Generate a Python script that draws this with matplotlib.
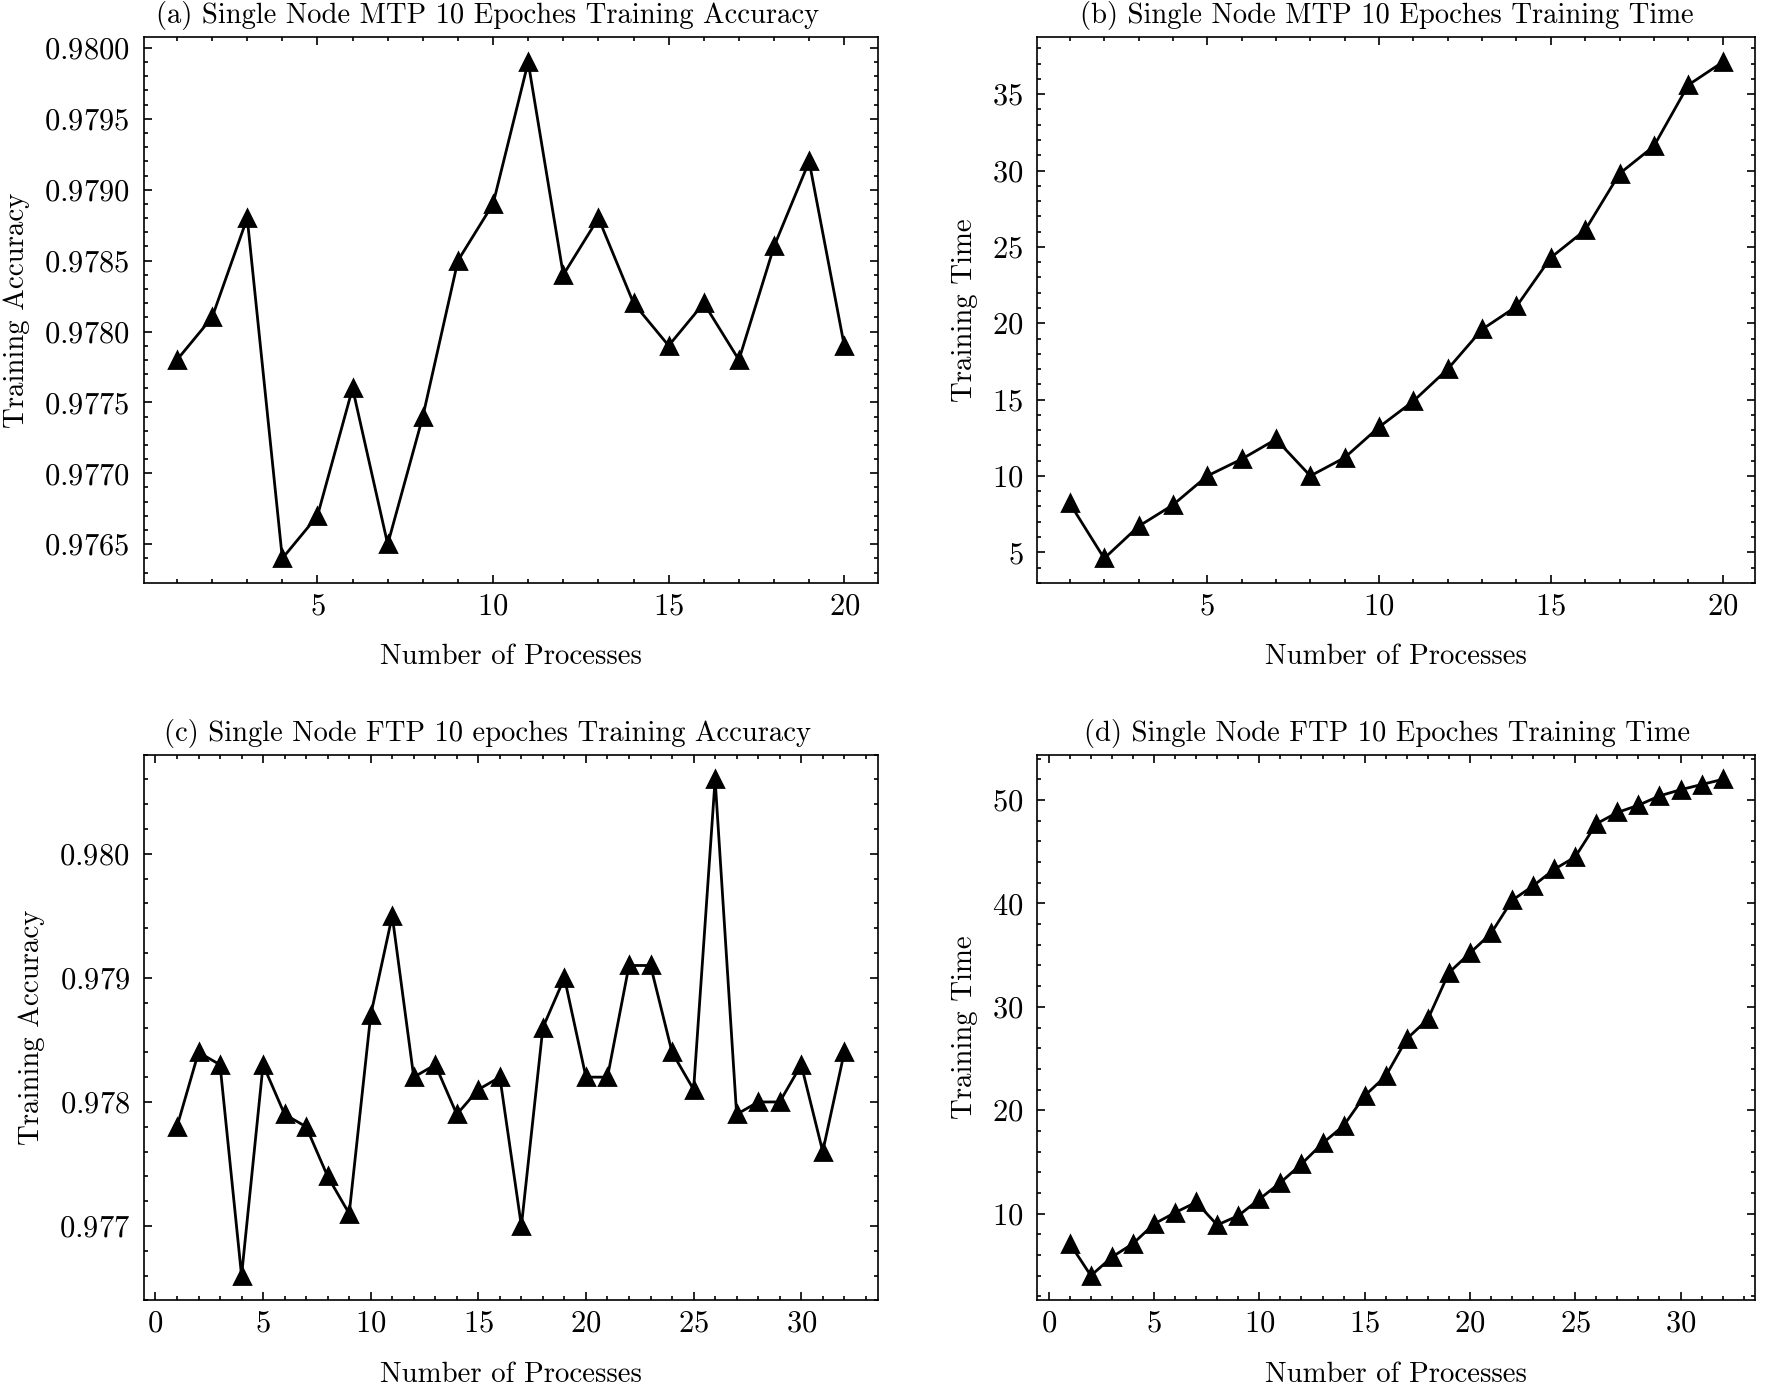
"""Single node MTP / FTP training accuracy and time"""

import matplotlib
matplotlib.use("Agg")
import matplotlib.pyplot as plt
from matplotlib.ticker import AutoMinorLocator, MultipleLocator

# (a) MTP accuracy, 1..20 processes
mtp_procs = list(range(1, 21))
mtp_acc = [0.9778, 0.9781, 0.9788, 0.9764, 0.9767, 0.9776, 0.9765, 0.9774,
           0.9785, 0.9789, 0.9799, 0.9784, 0.9788, 0.9782, 0.9779, 0.9782,
           0.9778, 0.9786, 0.9792, 0.9779]

# (b) MTP training time
mtp_time = [8.2, 4.6, 6.7, 8.1, 10.0, 11.1, 12.4, 10.0, 11.2, 13.2,
            14.9, 17.0, 19.6, 21.1, 24.3, 26.1, 29.8, 31.6, 35.6, 37.1]

# (c) FTP accuracy, 1..32 processes
ftp_procs = list(range(1, 33))
ftp_acc = [0.9778, 0.9784, 0.9783, 0.9766, 0.9783, 0.9779, 0.9778, 0.9774,
           0.9771, 0.9787, 0.9795, 0.9782, 0.9783, 0.9779, 0.9781, 0.9782,
           0.9770, 0.9786, 0.9790, 0.9782, 0.9782, 0.9791, 0.9791, 0.9784,
           0.9781, 0.9806, 0.9779, 0.9780, 0.9780, 0.9783, 0.9776, 0.9784]

# (d) FTP training time
ftp_time = [7.1, 4.0, 5.8, 7.1, 9.0, 10.1, 11.1, 8.9, 9.8, 11.4,
            13.0, 14.8, 16.8, 18.5, 21.4, 23.3, 26.9, 28.8, 33.3, 35.2,
            37.1, 40.3, 41.7, 43.3, 44.5, 47.7, 48.8, 49.5, 50.4, 51.0,
            51.5, 52.0]

titles = [
    "(a) Single Node MTP 10 Epoches Training Accuracy",
    "(b) Single Node MTP 10 Epoches Training Time",
    "(c) Single Node FTP 10 epoches Training Accuracy",
    "(d) Single Node FTP 10 Epoches Training Time",
]


def setup_style():
    plt.rcParams.update({
        "font.family": "serif",
        "font.serif": ["cmr10"],
        "mathtext.fontset": "cm",
        "axes.formatter.use_mathtext": True,
        "font.size": 10,
        "axes.titlesize": 10.3,
        "axes.labelsize": 10.4,
        "xtick.labelsize": 11,
        "ytick.labelsize": 11,
        "xtick.major.pad": 3.5,
        "ytick.major.pad": 5,
        "axes.linewidth": 0.6,
        "xtick.direction": "in",
        "ytick.direction": "in",
        "xtick.top": True,
        "ytick.right": True,
        "xtick.major.size": 3,
        "ytick.major.size": 3,
        "xtick.minor.size": 1.5,
        "ytick.minor.size": 1.5,
        "xtick.major.width": 0.6,
        "ytick.major.width": 0.6,
        "xtick.minor.width": 0.6,
        "ytick.minor.width": 0.6,
        "xtick.minor.visible": True,
        "ytick.minor.visible": True,
    })


def draw_panel(ax, x, y, title, ylabel, xstep, ystep, title_x):
    ax.plot(x, y, color="black", marker="^", markersize=6, linewidth=1.0)
    ax.set_title(title, pad=5, x=title_x)
    ax.set_xlabel("Number of Processes", labelpad=8.5)
    ax.set_ylabel(ylabel, labelpad=5)
    ax.xaxis.set_major_locator(MultipleLocator(xstep))
    ax.yaxis.set_major_locator(MultipleLocator(ystep))
    ax.xaxis.set_minor_locator(AutoMinorLocator())
    ax.yaxis.set_minor_locator(AutoMinorLocator())


def main():
    setup_style()
    fig = plt.figure(figsize=(8.865, 6.91), dpi=200)

    left1, right1 = 0.081, 0.495
    left2, right2 = 0.585, 0.990
    top_b, top_t = 0.578, 0.973
    bot_b, bot_t = 0.059, 0.454

    ax_a = fig.add_axes([left1, top_b, right1 - left1, top_t - top_b])
    ax_b = fig.add_axes([left2, top_b, right2 - left2, top_t - top_b])
    ax_c = fig.add_axes([left1, bot_b, right1 - left1, bot_t - bot_b])
    ax_d = fig.add_axes([left2, bot_b, right2 - left2, bot_t - bot_b])

    draw_panel(ax_a, mtp_procs, mtp_acc, titles[0], "Training Accuracy", 5, 0.0005, 0.469)
    draw_panel(ax_b, mtp_procs, mtp_time, titles[1], "Training Time", 5, 5, 0.487)
    draw_panel(ax_c, ftp_procs, ftp_acc, titles[2], "Training Accuracy", 5, 0.001, 0.469)
    draw_panel(ax_d, ftp_procs, ftp_time, titles[3], "Training Time", 5, 10, 0.487)

    plt.savefig("out.png", dpi=200)
    plt.close()


if __name__ == "__main__":
    main()
